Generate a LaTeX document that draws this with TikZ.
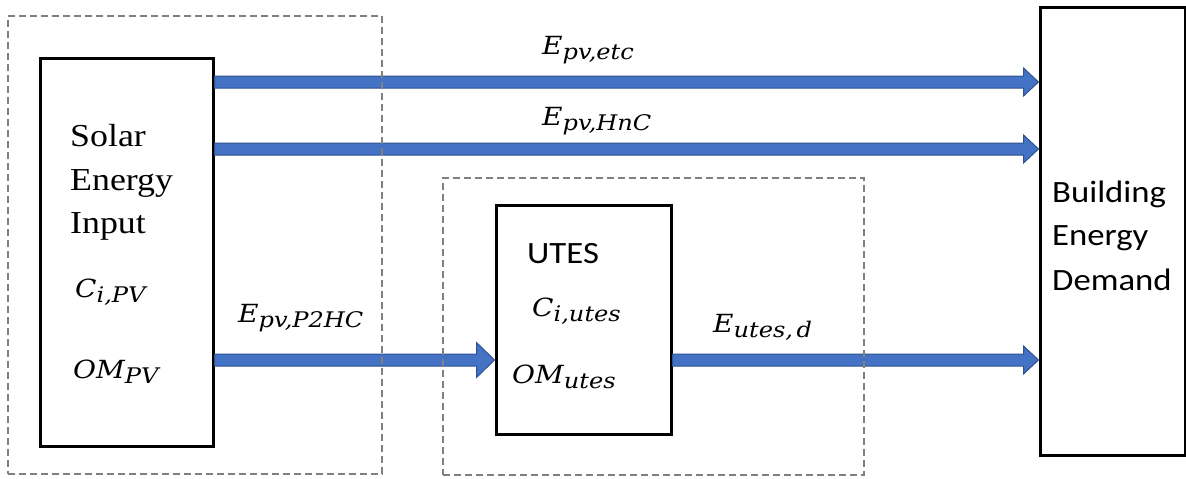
\documentclass[tikz,border=0pt]{standalone}
\usepackage{fontspec}
\setmainfont{Liberation Serif}[FakeStretch=1.12]
\newfontfamily\sansfnt{Carlito}[FakeStretch=1.12]
\newfontfamily\symfnt{DejaVu Serif}[FakeStretch=1.12]
\usetikzlibrary{calc}

\definecolor{flowblue}{HTML}{4472C4}
\definecolor{flowedge}{HTML}{2F528F}
\definecolor{groupgray}{HTML}{808080}

% quantity symbol with a lowered subscript
\newcommand\qsym[2]{\mbox{\symfnt\itshape\fontsize{25}{30}\selectfont #1\raisebox{-5pt}{\fontsize{21.5}{24}\selectfont #2}}}

% horizontal block arrow: start, end, shaft half-width, head half-width, head length
\newcommand\flowarrow[5]{%
  \filldraw[flowstyle] let \p1=(#1), \p2=(#2) in
    (\x1,{\y1+#3}) -- ({\x2-#5},{\y1+#3}) -- ({\x2-#5},{\y1+#4}) -- (\x2,\y1)
    -- ({\x2-#5},{\y1-#4}) -- ({\x2-#5},{\y1-#3}) -- (\x1,{\y1-#3}) -- cycle;}

\tikzset{
  block/.style={draw=black, line width=3pt, inner sep=0pt, anchor=north west, fill=white},
  group/.style={draw=groupgray, line width=2pt, dash pattern=on 7pt off 4pt,
    inner sep=0pt, outer sep=0pt, anchor=north west},
  serif/.style={anchor=base west, inner sep=0pt, font=\fontsize{32}{38}\selectfont},
  sans/.style={anchor=base west, inner sep=0pt, font=\sansfnt\fontsize{31}{37}\selectfont},
  sym/.style={anchor=base west, inner sep=0pt},
  flowstyle/.style={fill=flowblue, draw=flowedge, line width=1pt, line join=miter},
}

\begin{document}
\begin{tikzpicture}[x=1pt, y=-1pt]
\useasboundingbox (0,0) rectangle (1186,479);

% main blocks
\node[block, minimum width=173pt, minimum height=388pt] (solar) at (38.5,56.5) {};
\node[block, minimum width=175pt, minimum height=229pt] (utes) at (494.5,203.5) {};
\node[block, minimum width=145pt, minimum height=448pt] (building) at (1038.5,5.5) {};

% block texts
\node[serif] (solar1) at (70,146) {Solar};
\node[serif] (solar2) at (70,190) {Energy};
\node[serif] (solar3) at (70,233) {Input};
\node[sym] (cipv) at (75,297) {\qsym{C}{i,PV}};
\node[sym] (ompv) at (73,378) {\qsym{OM}{PV}};

\node[sans] (utesname) at (527,263) {UTES};
\node[sym] (ciutes) at (532,316) {\qsym{C}{i,utes}};
\node[sym] (omutes) at (512,383) {\qsym{OM}{utes}};

\node[sans] (bld1) at (1052,202) {Building};
\node[sans] (bld2) at (1052,245) {Energy};
\node[sans] (bld3) at (1052,290) {Demand};

% flow levels
\coordinate (lvetc) at (0,82);
\coordinate (lvhnc) at (0,149);
\coordinate (lvp2hc) at (0,360);

% flows
\flowarrow{solar.east |- lvetc}{building.west |- lvetc}{6pt}{14pt}{15pt}
\flowarrow{solar.east |- lvhnc}{building.west |- lvhnc}{6pt}{14pt}{15pt}
\flowarrow{solar.east |- lvp2hc}{utes.west |- lvp2hc}{6pt}{17.5pt}{18pt}
\flowarrow{utes.east |- lvp2hc}{building.west |- lvp2hc}{6pt}{14pt}{15pt}

% flow labels
\node[sym] (eetc) at (542,54) {\qsym{E}{pv,etc}};
\node[sym] (ehnc) at (542,125) {\qsym{E}{pv,HnC}};
\node[sym] (ep2hc) at (238,322) {\qsym{E}{pv,P2HC}};
\node[sym] (eutesd) at (713,332) {\qsym{E}{utes,\,d}};

% system boundaries
\node[group, minimum width=374pt, minimum height=458pt] (pvgroup) at (8,16) {};
\node[group, minimum width=421pt, minimum height=297pt] (utesgroup) at (443,178) {};
\end{tikzpicture}
\end{document}
